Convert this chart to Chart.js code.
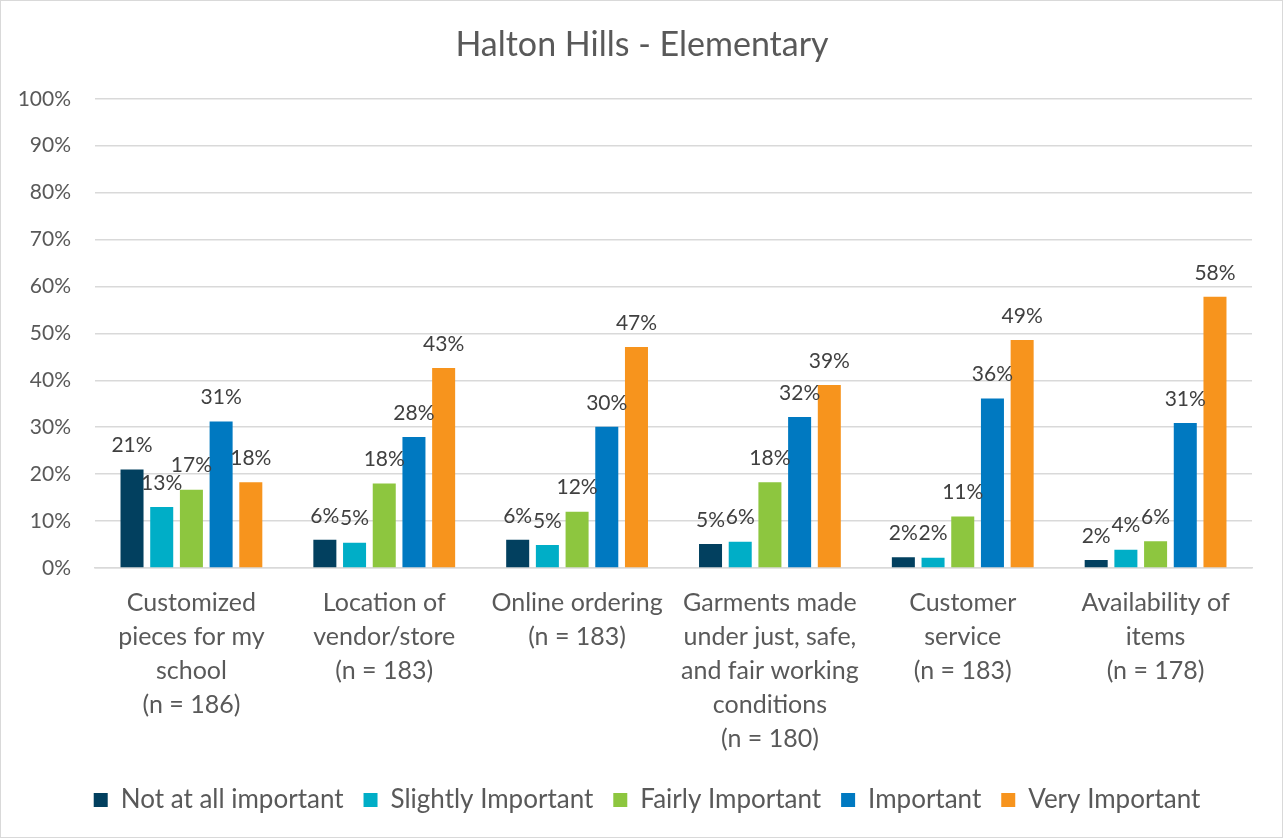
<!DOCTYPE html>
<html>
<head>
<meta charset="utf-8">
<script src="https://cdn.jsdelivr.net/npm/chart.js@4.4.1/dist/chart.umd.min.js"></script>
<style>
html,body{margin:0;padding:0;background:#fff;}
#wrap{width:1283px;height:838px;position:relative;}
</style>
</head>
<body>
<div id="wrap"><canvas id="c" width="1283" height="838"></canvas></div>
<script>
const categories = [
  ["Customized","pieces for my","school","(n = 186)"],
  ["Location of","vendor/store","(n = 183)"],
  ["Online ordering","(n = 183)"],
  ["Garments made","under just, safe,","and fair working","conditions","(n = 180)"],
  ["Customer","service","(n = 183)"],
  ["Availability of","items","(n = 178)"]
];
const seriesNames = ["Not at all important","Slightly Important","Fairly Important","Important","Very Important"];
const notAtAll   = [21.0, 6.0, 6.0, 5.1, 2.3, 1.7];
const slightly   = [13.0, 5.4, 4.9, 5.6, 2.2, 3.9];
const fairly     = [16.7, 18.0, 12.0, 18.3, 11.0, 5.7];
const important  = [31.2, 27.9, 30.1, 32.2, 36.1, 30.9];
const veryImp    = [18.3, 42.6, 47.1, 39.0, 48.6, 57.8];
const yTicks = [0,10,20,30,40,50,60,70,80,90,100];
const colors = ["#02405F","#00AEC7","#8DC63F","#0079C1","#F7941D"];
const values = [notAtAll, slightly, fairly, important, veryImp];

const FONT = "Lato, 'Open Sans', sans-serif";

const bgPlugin = {
  id: 'bg',
  beforeDraw(chart){
    const ctx = chart.ctx;
    ctx.save();
    ctx.fillStyle = '#fff';
    ctx.fillRect(0,0,chart.width,chart.height);
    ctx.restore();
  },
  afterDraw(chart){
    const ctx = chart.ctx;
    ctx.save();
    ctx.strokeStyle = '#d9d9d9';
    ctx.lineWidth = 1;
    ctx.strokeRect(0.5,0.5,chart.width-1,chart.height-1);
    ctx.restore();
  }
};

const shiftPlugin = {
  id: 'shiftBoxes',
  afterLayout(chart){
    if (chart.legend) { chart.legend.left += 21; chart.legend.right += 21; }
    if (chart.titleBlock) { chart.titleBlock.left += 16; chart.titleBlock.right += 16; }
  }
};

const labelPlugin = {
  id: 'barLabels',
  afterDatasetsDraw(chart){
    const ctx = chart.ctx;
    ctx.save();
    ctx.font = "21px " + FONT;
    ctx.fillStyle = '#404040';
    ctx.textAlign = 'center';
    ctx.textBaseline = 'middle';
    chart.data.datasets.forEach((ds, di) => {
      const meta = chart.getDatasetMeta(di);
      meta.data.forEach((bar, i) => {
        const v = ds.data[i];
        ctx.fillText(Math.round(v) + '%', bar.x, bar.y - 24);
      });
    });
    ctx.restore();
  }
};

new Chart(document.getElementById('c'), {
  type: 'bar',
  data: {
    labels: categories,
    datasets: seriesNames.map((n, i) => ({
      label: n,
      data: values[i],
      backgroundColor: colors[i],
      borderWidth: 0,
      categoryPercentage: 0.77,
      barPercentage: 0.775
    }))
  },
  options: {
    responsive: false,
    animation: false,
    devicePixelRatio: 1,
    layout: { padding: { left: 0, right: 31, top: 0, bottom: 15 } },
    plugins: {
      title: {
        display: true,
        text: 'Halton Hills - Elementary',
        color: '#595959',
        font: { family: FONT, size: 34, weight: 'normal', lineHeight: 1.2 },
        padding: { top: 25, bottom: 33 }
      },
      legend: {
        position: 'bottom',
        labels: {
          color: '#595959',
          font: { family: FONT, size: 26 },
          boxWidth: 14,
          boxHeight: 14,
          padding: 20
        }
      },
      tooltip: { enabled: false }
    },
    scales: {
      x: {
        afterFit(scale){ scale.height -= 7; },
        grid: { display: false, drawTicks: false },
        border: { display: true, color: '#d9d9d9', width: 1.5 },
        ticks: {
          color: '#595959',
          font: { family: FONT, size: 25, lineHeight: 1.36 },
          padding: 18,
          maxRotation: 0,
          autoSkip: false
        }
      },
      y: {
        min: 0,
        max: 100,
        afterFit(scale){ scale.width = 95; },
        afterBuildTicks(scale){ scale.ticks = yTicks.map(v => ({ value: v })); },
        grid: { color: '#d9d9d9', lineWidth: 1.5, drawTicks: false },
        border: { display: false },
        ticks: {
          color: '#595959',
          font: { family: FONT, size: 21 },
          padding: 24,
          callback: v => v + '%'
        }
      }
    }
  },
  plugins: [bgPlugin, shiftPlugin, labelPlugin]
});
</script>
</body>
</html>
